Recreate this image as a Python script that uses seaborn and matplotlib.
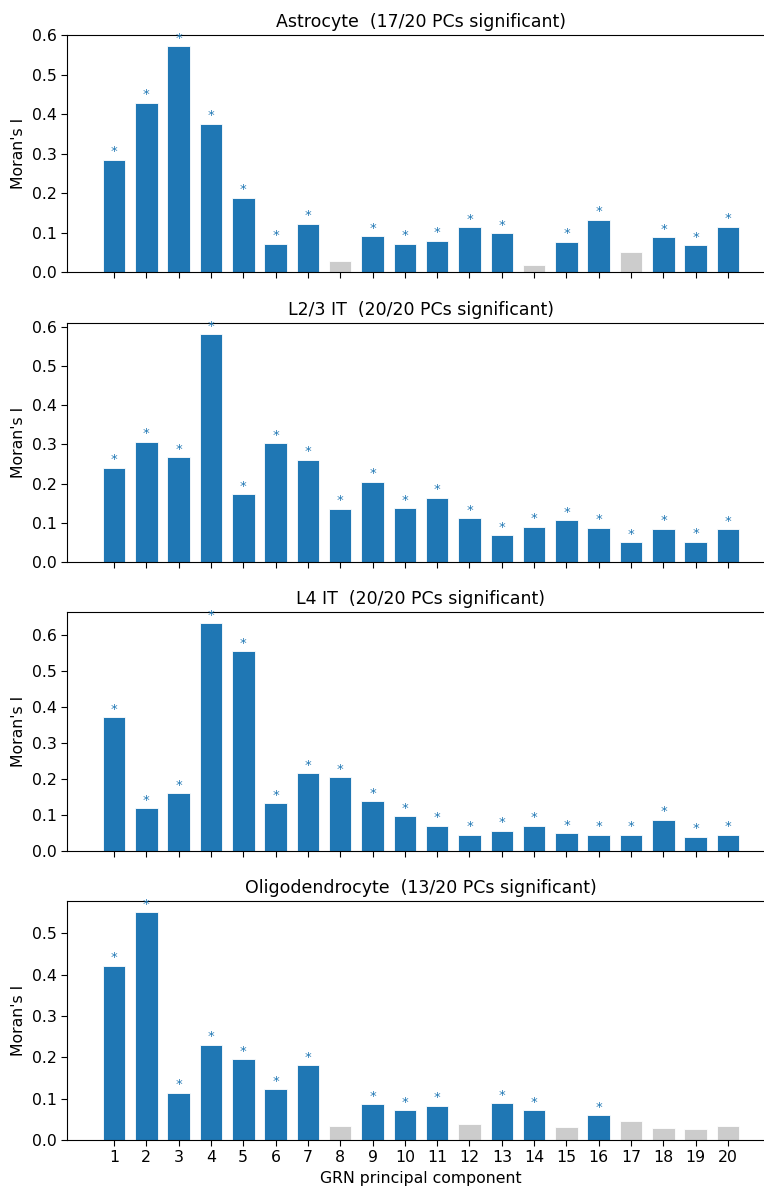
import matplotlib
matplotlib.use("Agg")
import matplotlib.pyplot as plt
import numpy as np
import pandas as pd
import seaborn as sns

PCS = list(range(1, 21))
CELL_TYPES = ["Astrocyte", "L2/3 IT", "L4 IT", "Oligodendrocyte"]

# Moran's I per GRN principal component
astro_vals = [0.284, 0.429, 0.572, 0.375, 0.188, 0.071, 0.122, 0.027, 0.090, 0.071,
              0.079, 0.113, 0.098, 0.017, 0.076, 0.133, 0.050, 0.088, 0.068, 0.114]
l23_vals = [0.240, 0.307, 0.267, 0.580, 0.172, 0.302, 0.260, 0.136, 0.204, 0.137,
            0.163, 0.111, 0.068, 0.090, 0.106, 0.087, 0.050, 0.085, 0.052, 0.083]
l4_vals = [0.372, 0.119, 0.161, 0.633, 0.556, 0.133, 0.217, 0.205, 0.138, 0.096,
           0.070, 0.045, 0.056, 0.070, 0.049, 0.045, 0.045, 0.087, 0.040, 0.045]
oligo_vals = [0.422, 0.551, 0.114, 0.230, 0.195, 0.123, 0.181, 0.035, 0.086, 0.072,
              0.082, 0.039, 0.089, 0.072, 0.031, 0.060, 0.046, 0.029, 0.027, 0.035]

# significant PCs (starred, blue)
astro_sig = [True] * 7 + [False] + [True] * 5 + [False] + [True] * 2 + [False] + [True] * 3
l23_sig = [True] * 20
l4_sig = [True] * 20
oligo_sig = ([True] * 7 + [False] + [True] * 3 + [False] + [True] * 2 + [False] + [True]
             + [False] * 4)

VALUES = [astro_vals, l23_vals, l4_vals, oligo_vals]
SIGS = [astro_sig, l23_sig, l4_sig, oligo_sig]

BLUE = "#1f77b4"
GREY = "#cccccc"

plt.rcParams.update({
    "xtick.labelsize": 11.3,
    "ytick.labelsize": 11.3,
    "axes.labelsize": 11.3,
    "axes.titlesize": 12.5,
    "xtick.major.size": 4,
    "ytick.major.size": 4,
})

W, H = 764, 1193
fig = plt.figure(figsize=(W / 100, H / 100), dpi=100)

# axes boxes in pixels: (top, bottom)
boxes = [(35, 272), (323, 562), (612, 851), (901, 1140)]
left_px, right_px = 67, 775

axes = []
for top, bot in boxes:
    ax = fig.add_axes([left_px / W, (H - bot) / H, (right_px - left_px) / W, (bot - top) / H],
                      sharex=axes[0] if axes else None)
    axes.append(ax)

for ax, name, vals, sig in zip(axes, CELL_TYPES, VALUES, SIGS):
    df = pd.DataFrame({"pc": PCS, "moran": vals, "sig": sig})
    sns.barplot(data=df, x="pc", y="moran", hue="sig", palette={True: BLUE, False: GREY},
                dodge=False, width=0.7, saturation=1, edgecolor="white", linewidth=0.6,
                legend=False, ax=ax)
    ymax = max(vals) * 1.05
    ax.set_ylim(0, ymax)
    for i, (v, s) in enumerate(zip(vals, sig)):
        if s:
            ax.text(i, v + 0.004, "*", ha="center", va="bottom", fontsize=9.5, color=BLUE)
    n_sig = sum(sig)
    ax.set_title(f"{name}  ({n_sig}/20 PCs significant)")
    ax.set_ylabel("Moran's I")
    ax.set_xlabel("")
    ax.set_xlim(-1.45, 20.45)

for ax in axes[:-1]:
    ax.tick_params(labelbottom=False)
axes[-1].set_xlabel("GRN principal component")

fig.savefig("out.png", dpi=100)
